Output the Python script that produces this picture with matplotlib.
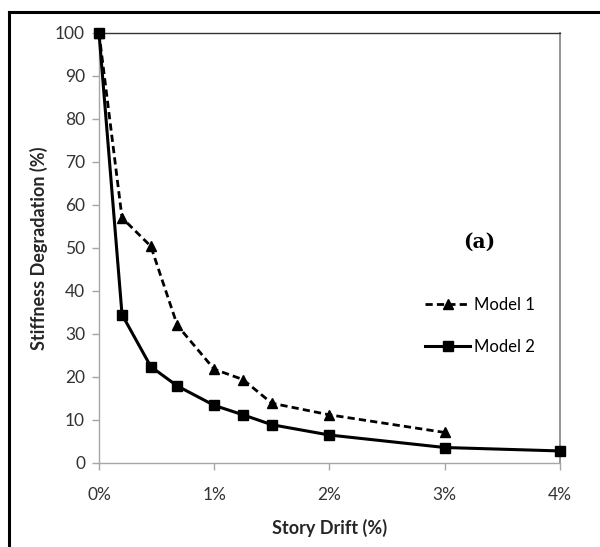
import matplotlib
matplotlib.use('Agg')
import matplotlib.pyplot as plt
from matplotlib.lines import Line2D
from matplotlib.ticker import FuncFormatter

# Story drift (%) and stiffness degradation (%)
drift_m1 = [0.0, 0.2, 0.45, 0.68, 1.0, 1.25, 1.5, 2.0, 3.0]
stiff_m1 = [100.0, 57.0, 50.4, 32.0, 21.8, 19.4, 13.9, 11.2, 7.1]

drift_m2 = [0.0, 0.2, 0.45, 0.68, 1.0, 1.25, 1.5, 2.0, 3.0, 4.0]
stiff_m2 = [100.0, 34.5, 22.4, 17.9, 13.4, 11.2, 8.9, 6.5, 3.6, 2.8]

x_ticks = [0, 1, 2, 3, 4]
y_ticks = list(range(0, 101, 10))

plt.rcParams['font.family'] = ['Lato', 'DejaVu Sans']

fig = plt.figure(figsize=(6.0, 5.47), dpi=100)
ax = fig.add_axes([0.165, 0.1536, 0.768, 0.7861])

ax.plot(drift_m1, stiff_m1, color='black', linestyle=(0, (2.6, 1.5)), linewidth=2.0,
        marker='^', markersize=7.5, label='Model 1', clip_on=False, zorder=3)
ax.plot(drift_m2, stiff_m2, color='black', linestyle='-', linewidth=2.2,
        marker='s', markersize=7.5, label='Model 2', clip_on=False, zorder=4)

ax.set_xlim(0, 4)
ax.set_ylim(0, 100)
ax.set_xticks(x_ticks)
ax.set_yticks(y_ticks)
ax.xaxis.set_major_formatter(FuncFormatter(lambda v, p: f'{int(v)}%'))

for side in ['left', 'bottom']:
    ax.spines[side].set_color('#a6a6a6')
    ax.spines[side].set_linewidth(1.0)
ax.spines['top'].set_color('#333333')
ax.spines['top'].set_linewidth(1.0)
ax.spines['right'].set_color('#8c8c8c')
ax.spines['right'].set_linewidth(1.3)

ax.tick_params(axis='both', direction='out', length=5, width=1.0, color='#a6a6a6',
               labelsize=12.5, labelcolor='#333333')
ax.tick_params(axis='x', pad=12)
ax.tick_params(axis='y', pad=5)

ax.set_xlabel('Story Drift (%)', fontsize=13, fontweight='bold', color='#262626', labelpad=12)
ax.set_ylabel('Stiffness Degradation (%)', fontsize=13, fontweight='bold', color='#262626', labelpad=5)

ax.text(0.826, 0.515, '(a)', transform=ax.transAxes, fontsize=14.5, fontweight='bold',
        family='DejaVu Serif', ha='center', va='center')

ax.legend(loc='upper left', bbox_to_anchor=(0.69, 0.405), frameon=False, fontsize=12,
          handlelength=2.7, handletextpad=0.2, labelspacing=1.55, borderpad=0)

# outer frame (top and left edges only)
fig.add_artist(Line2D([9 / 600, 1.0], [1 - 12 / 547, 1 - 12 / 547], color='black',
                      linewidth=2.2, transform=fig.transFigure))
fig.add_artist(Line2D([9 / 600, 9 / 600], [0.0, 1 - 12 / 547], color='black',
                      linewidth=2.2, transform=fig.transFigure))

fig.savefig('out.png', dpi=100)
